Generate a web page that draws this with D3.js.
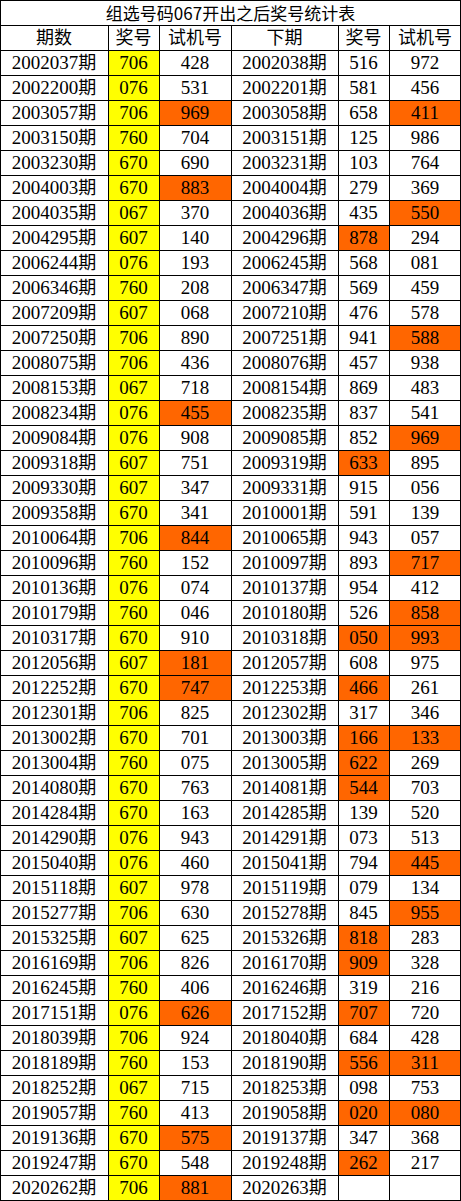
<!DOCTYPE html><html><head><meta charset="utf-8"><script src="https://cdn.jsdelivr.net/npm/d3@7"></script>
<style>body{margin:0;background:#fff}</style></head><body><svg id="c" width="461" height="1201"></svg><script>
const title="组选号码067开出之后奖号统计表";
const headers=["期数","奖号","试机号","下期","奖号","试机号"];
const periods=["2002037","2002200","2003057","2003150","2003230","2004003","2004035","2004295","2006244","2006346","2007209","2007250","2008075","2008153","2008234","2009084","2009318","2009330","2009358","2010064","2010096","2010136","2010179","2010317","2012056","2012252","2012301","2013002","2013004","2014080","2014284","2014290","2015040","2015118","2015277","2015325","2016169","2016245","2017151","2018039","2018189","2018252","2019057","2019136","2019247","2020262"];
const prizes=["706","076","706","760","670","670","067","607","076","760","607","706","706","067","076","076","607","607","670","706","760","076","760","670","607","670","706","670","760","670","670","076","076","607","706","607","706","760","076","706","760","067","760","670","670","706"];
const trials=["428","531","969","704","690","883","370","140","193","208","068","890","436","718","455","908","751","347","341","844","152","074","046","910","181","747","825","701","075","763","163","943","460","978","630","625","826","406","626","924","153","715","413","575","548","881"];
const nextPeriods=["2002038","2002201","2003058","2003151","2003231","2004004","2004036","2004296","2006245","2006347","2007210","2007251","2008076","2008154","2008235","2009085","2009319","2009331","2010001","2010065","2010097","2010137","2010180","2010318","2012057","2012253","2012302","2013003","2013005","2014081","2014285","2014291","2015041","2015119","2015278","2015326","2016170","2016246","2017152","2018040","2018190","2018253","2019058","2019137","2019248","2020263"];
const nextPrizes=["516","581","658","125","103","279","435","878","568","569","476","941","457","869","837","852","633","915","591","943","893","954","526","050","608","466","317","166","622","544","139","073","794","079","845","818","909","319","707","684","556","098","020","347","262",""];
const nextTrials=["972","456","411","986","764","369","550","294","081","459","578","588","938","483","541","969","895","056","139","057","717","412","858","993","975","261","346","133","269","703","520","513","445","134","955","283","328","216","720","428","311","753","080","368","217",""];
// highlight flags: c=trial, n=next prize, t=next trial
const marks=["","","ct","","","c","t","n","","","","t","","","c","t","n","","","c","t","","t","nt","c","cn","","nt","n","n","","","t","","t","n","n","","cn","","nt","","nt","c","n","c"];
const colEdges=[0,108,159,231,338,389,461];
const rowH=25;
const svg=d3.select("#c");
const y=d3.scaleLinear().domain([0,1]).range([0,rowH]);
const num="'Liberation Serif','DejaVu Serif',serif", cjk="'Noto Sans CJK SC',sans-serif";
svg.append("text").attr("x",230.5).attr("y",y(0.5)+1.5).attr("dy","0.36em").attr("text-anchor","middle").attr("font-family",cjk).attr("font-size",17).text(title);
function cell(ci,ri,txt,fill){
  const x0=colEdges[ci],x1=colEdges[ci+1],y0=y(ri);
  if(fill) svg.append("rect").attr("x",x0).attr("y",y0).attr("width",x1-x0).attr("height",rowH).attr("fill",fill);
  const t=svg.append("text").attr("x",(x0+x1)/2).attr("y",y0+rowH/2).attr("dy","0.36em").attr("text-anchor","middle").attr("font-size",19);
  if(/^\d+期$/.test(txt)){t.attr("font-family",num);t.append("tspan").text(txt.slice(0,-1));t.append("tspan").attr("font-family",cjk).attr("font-size",18).text("期");}
  else if(/^\d*$/.test(txt)) t.attr("font-family",num).text(txt);
  else t.attr("font-family",cjk).attr("font-size",18).text(txt);
}
headers.forEach((h,i)=>cell(i,1,h,null));
const OR="#FF6600",YE="#FFFF00";
periods.forEach((p,i)=>{
  const r=i+2,m=marks[i];
  cell(0,r,p+"期",null);
  cell(1,r,prizes[i],YE);
  cell(2,r,trials[i],m.includes("c")?OR:null);
  cell(3,r,nextPeriods[i]+"期",null);
  cell(4,r,nextPrizes[i],m.includes("n")?OR:null);
  cell(5,r,nextTrials[i],m.includes("t")?OR:null);
});
const nRows=periods.length+2;
const g=svg.append("g").attr("stroke","#000").attr("stroke-width",1).attr("shape-rendering","crispEdges");
for(let r=0;r<=nRows;r++){const yy=Math.min(y(r)+0.5,1200.5);g.append("line").attr("x1",0).attr("x2",461).attr("y1",yy).attr("y2",yy);}
colEdges.forEach((x,i)=>{const xx=Math.min(x+0.5,460.5);g.append("line").attr("x1",xx).attr("x2",xx).attr("y1",i==0||i==6?0:y(1)).attr("y2",y(nRows));});
</script></body></html>
